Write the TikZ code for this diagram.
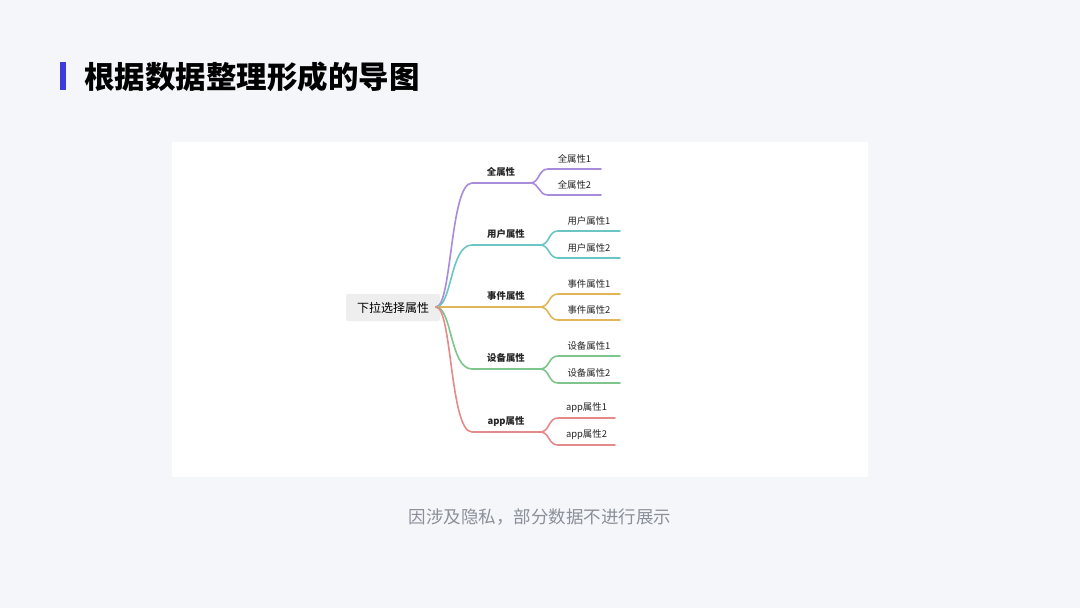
\documentclass[tikz,border=0pt]{standalone}
\usepackage{fontspec}
\setmainfont{Noto Sans CJK SC}
\usetikzlibrary{calc}
\begin{document}
\begin{tikzpicture}[x=1pt,y=-1pt,
  lbl/.style={font=\fontsize{9.4}{10}\selectfont, text=black!85, inner sep=0pt},
  blbl/.style={font=\fontsize{9.4}{10}\selectfont\bfseries, text=black!85, inner sep=0pt},
  br/.style={line width=1.6pt, line cap=round}]
\definecolor{bg}{HTML}{F5F6FA}
\definecolor{cB}{HTML}{3D3BD9}
\definecolor{cP}{HTML}{A98BDB}
\definecolor{cT}{HTML}{6CC5C5}
\definecolor{cY}{HTML}{E0B658}
\definecolor{cG}{HTML}{7DC48D}
\definecolor{cR}{HTML}{E58A8A}
\definecolor{capc}{HTML}{8A8F99}
\definecolor{rootc}{HTML}{EEEEEE}
\fill[bg] (0,0) rectangle (1080,608);
\useasboundingbox (0,0) rectangle (1080,608);
\fill[cB] (60,62) rectangle (66,90);
\node[anchor=west,font=\fontsize{30.5}{34}\selectfont\bfseries,inner sep=0pt] (title) at (84,77) {根据数据整理形成的导图};
\fill[white] (172,142) rectangle (868,477);
\node[font=\fontsize{17.5}{20}\selectfont,text=capc,inner sep=0pt] (cap) at (540,517) {因涉及隐私，部分数据不进行展示};
\node[fill=rootc,rounded corners=2pt,minimum width=94pt,minimum height=27pt,font=\fontsize{12}{14}\selectfont,inner sep=0pt] (root) at (393,307.5) {下拉选择属性};
\coordinate (s) at (436,307);
\foreach \c/\y/\t/\ya/\yb/\ex/\n in {cP/183/全属性/169/195/601/1,cT/245/用户属性/231/258/620/2,cY/307/事件属性/294/320/620/3,cG/369/设备属性/356/383/620/4,cR/432/app属性/418/445/615/5}{
  \coordinate (a\n) at (472,\y);
  \coordinate (m\n) at ({\n==1?530:540},\y);
  \coordinate (c\n a) at ({\n==1?548:558},\ya);
  \coordinate (c\n b) at ({\n==1?548:558},\yb);
  \coordinate (e\n a) at (\ex,\ya);
  \coordinate (e\n b) at (\ex,\yb);
  \draw[br,\c] (s) .. controls (452,307) and (450,\y) .. (a\n) -- (m\n);
  \draw[br,\c] (m\n) .. controls ($(m\n)+(10,0)$) and ($(c\n a)+(-10,0)$) .. (c\n a) -- (e\n a);
  \draw[br,\c] (m\n) .. controls ($(m\n)+(10,0)$) and ($(c\n b)+(-10,0)$) .. (c\n b) -- (e\n b);
  \node[blbl] (L\n) at ($(a\n)!0.5!(m\n)+(0,-11)$) {\t};
  \node[lbl] (L\n a) at ($(c\n a)!0.5!(e\n a)+(0,-10)$) {\t1};
  \node[lbl] (L\n b) at ($(c\n b)!0.5!(e\n b)+(0,-10)$) {\t2};
}
\end{tikzpicture}
\end{document}
